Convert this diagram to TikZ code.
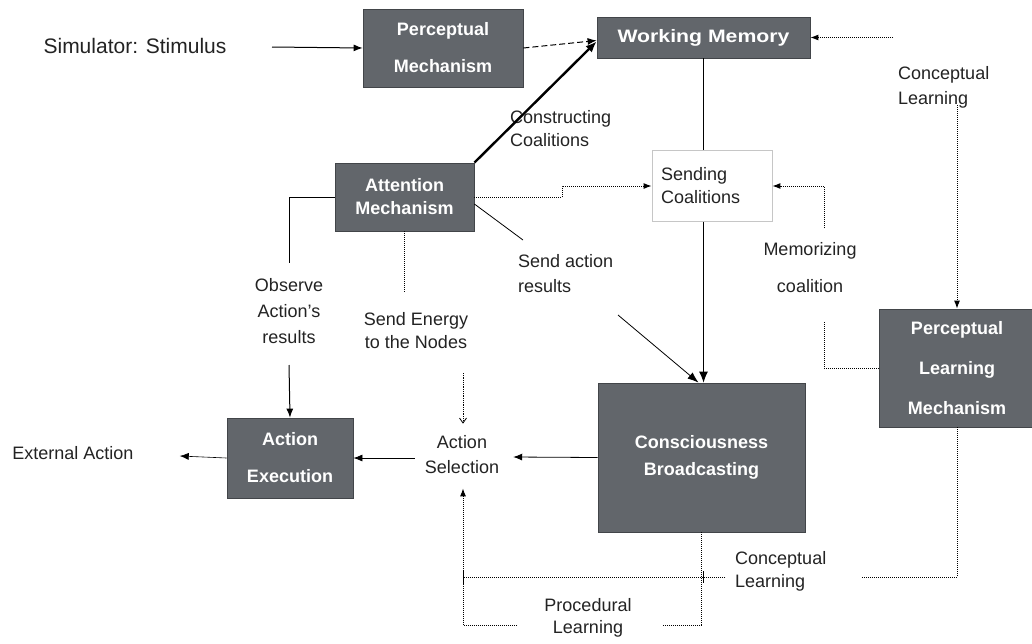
\documentclass[tikz,border=0pt]{standalone}
\usepackage{fontspec}
\setmainfont{Liberation Sans}
\usetikzlibrary{arrows.meta,calc}
\definecolor{boxgray}{RGB}{98,102,107}
\definecolor{boxedge}{RGB}{66,69,73}
\definecolor{labtext}{RGB}{35,35,35}
\begin{document}
\begin{tikzpicture}[x=1pt,y=-1pt,
  box/.style={draw=boxedge, fill=boxgray, text=white, align=center, inner sep=0pt, line width=0.8pt},
  bfont/.style={font=\bfseries\fontsize{18}{#1}\selectfont},
  lab/.style={font=\fontsize{18}{#1}\selectfont, text=labtext, align=center, inner sep=2pt},
  arr/.style={-{Latex[length=9pt,width=7pt]}, line width=1pt},
  dotl/.style={densely dotted, line width=1pt},
  dotarr/.style={densely dotted, line width=1pt, -{Latex[length=8pt,width=6pt]}},
  openarr/.style={densely dotted, line width=0.8pt, -{Straight Barb[length=5pt,width=7pt]}}
]
\useasboundingbox (0,0) rectangle (1032,643);
\fill[white] (0,0) rectangle (1032,643);

% boxes
\node[box, bfont=37, minimum width=160pt, minimum height=78pt] (pm) at (443,48) {Perceptual\\Mechanism};
\node[box, bfont=20, minimum width=213pt, minimum height=41pt] (wm) at (703.5,37.5) {\scalebox{1.18}[1]{Working Memory}};
\node[box, bfont=23, minimum width=139pt, minimum height=68pt] (am) at (404.5,197) {Attention\\Mechanism};
\node[draw=gray!45, fill=white, line width=0.8pt, minimum width=120pt, minimum height=71pt, text width=102pt, align=left, inner xsep=9pt, text=labtext, font=\fontsize{18}{23}\selectfont] (sc) at (712,186) {Sending\\Coalitions};
\node[box, bfont=40, minimum width=156pt, minimum height=118pt] (plm) at (957,368) {Perceptual\\Learning\\Mechanism};
\node[box, bfont=27, minimum width=207pt, minimum height=149pt] (cb) at (701.5,457.5) {Consciousness\\Broadcasting};
\node[box, bfont=37, minimum width=126pt, minimum height=80pt] (ae) at (290,458) {Action\\Execution};

% text nodes
\node[font=\fontsize{21}{24}\selectfont, inner sep=0pt, text=labtext] (sim) at (135,46) {Simulator: Stimulus};
\node[lab=20] (ext) at (73,453) {External Action};
\node[lab=25] (asel) at (462,455) {Action\\Selection};
\node[lab=23, align=left, anchor=west] (constr) at (508,129) {Constructing\\Coalitions};
\node[lab=25, align=left, anchor=west] (cl1) at (896,87) {Conceptual\\Learning};
\node[lab=37] (mem) at (810,268) {Memorizing\\coalition};
\node[lab=25, align=left, anchor=west] (sar) at (516,274) {Send action\\results};
\node[lab=26] (obs) at (289,311) {Observe\\Action's\\results};
\node[lab=23] (se) at (416,331) {Send Energy\\to the Nodes};
\node[lab=23, align=left, anchor=west] (cl2) at (733,571) {Conceptual\\Learning};
\node[lab=22] (pl) at (588,618) {Procedural\\Learning};

% free-end coordinates
\coordinate (s1) at (272,47);
\coordinate (c1s) at (893,37.5);
\coordinate (c1v) at (957,105);
\coordinate (m1) at (824,228);
\coordinate (m2) at (824,322);
\coordinate (sa1) at (523,240);
\coordinate (sa2) at (618,315);
\coordinate (o1) at (289,263);
\coordinate (o2) at (289,365);
\coordinate (e1) at (404.5,292);
\coordinate (e2) at (463,373);
\coordinate (p1) at (663,625);
\coordinate (p2) at (517,625);
\coordinate (k1) at (862,577);
\coordinate (k2) at (725,577);
\coordinate (k3) at (463,577);

% connectors
\draw[arr] (s1) -- (pm.west);
\draw[arr, dashed, dash pattern=on 6pt off 3pt] (pm.east) -- ($(wm.west)+(0,3)$);
\draw[-{Latex[length=11pt,width=9pt]}, line width=2.4pt] (am.north east) -- ($(wm.west)+(0,4)$);
\draw[line width=1.1pt] (wm.south) -- (wm.south |- sc.north);
\draw[dotarr] (c1s) -- (wm.east);
\draw[dotarr] (c1v) -- (plm.north);
\draw[dotarr] (am.east) -- ++(88,0) |- (sc.west);
\draw[dotarr] (m1) |- (sc.east);
\draw[dotl] (plm.west) -| (m2);
\draw[line width=0.8pt] ($(am.east)+(0,7)$) -- (sa1);
\draw[-{Latex[length=11pt,width=8pt]}, line width=0.8pt] (sa2) -- ($(cb.north)+(-3,0)$);
\draw[-{Latex[length=11pt,width=9pt]}, line width=1pt] (wm.south |- sc.south) -- (wm.south |- cb.north);
\draw[line width=0.8pt] (am.west) -| (o1);
\draw[arr] (o2) -- (ae.north);
\draw[dotl] (am.south) -- (e1);
\draw[openarr] (e2) -- ($(asel.north)+(1,-10)$);
\draw[arr, line width=0.8pt] ($(asel.west)+(-8,3)$) -- (ae.east);
\draw[arr, line width=0.8pt] (cb.west) -- ($(asel.east)+(12,2)$);
\draw[arr, line width=0.6pt] (ae.west) -- ($(ext.east)+(44,3)$);
\draw[dotl] (cb.south) |- (p1);
\draw[dotarr] (p2) -| ($(asel.south)+(1,12)$);
\draw[dotl] (plm.south) |- (k1);
\draw[dotl] (k2) -- (k3);
\draw[line width=0.6pt] ($(k3)+(0,-7)$) -- ($(k3)+(0,7)$);
\draw[line width=0.6pt] ($(k2)+(-22,-6)$) -- ($(k2)+(-22,6)$);
\end{tikzpicture}
\end{document}
